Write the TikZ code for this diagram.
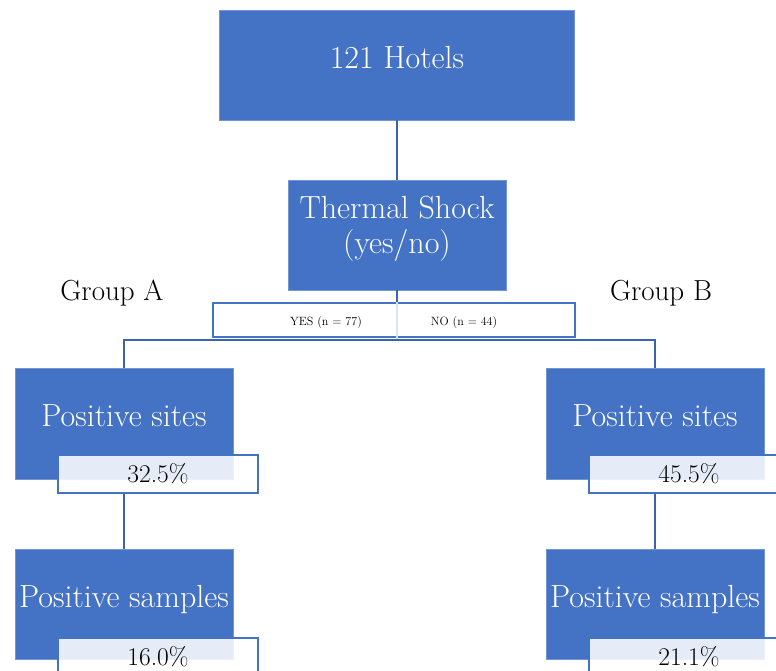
\documentclass[tikz,border=0pt]{standalone}
\usepackage{xcolor}
\usepackage{tikz}
\usetikzlibrary{positioning, calc}

\definecolor{boxblue}{HTML}{4472C4}
\definecolor{linkblue}{HTML}{3A64B0}
\definecolor{splitblue}{HTML}{DAE3F3}

\tikzset{
  bluebox/.style={fill=boxblue, draw=boxblue!75!white, line width=0.6pt, text=white,
    minimum width=218pt, minimum height=111pt, inner sep=0pt,
    font=\fontsize{32}{35}\selectfont},
  oneline/.style={text height=24pt, text depth=18pt},
  pctbox/.style={draw=boxblue, line width=1.5pt, fill=white, fill opacity=0.87,
    text opacity=1, minimum width=200pt, minimum height=38pt, inner sep=0pt,
    font=\fontsize{25.5}{28}\selectfont},
  link/.style={draw=linkblue, line width=2pt},
  grouplabel/.style={font=\fontsize{29}{32}\selectfont}
}

\begin{document}
\begin{tikzpicture}[x=1pt, y=-1pt]
  \useasboundingbox (0,0) rectangle (776,670);
  \clip (0,0) rectangle (776,670);

  % Top of the tree
  \node[bluebox, oneline, minimum width=355pt, minimum height=110pt] (hotels) at (397,65) {121 Hotels};
  \node[bluebox, align=center, minimum height=110pt, text depth=20pt] (shock) at (397,235) {Thermal Shock\\(yes/no)};
  \draw[link] (hotels) -- (shock);

  % Split into the two groups
  \node[draw=boxblue, line width=2pt, fill=white, minimum width=362pt, minimum height=34pt,
    inner sep=0pt] (yesno) at (394,320) {};
  \draw[link] (shock.south) -- (shock.south |- yesno.north);
  \coordinate (bar) at (397,340);
  \draw[splitblue, line width=1.5pt] (shock.south |- yesno.north) -- (bar);
  \node[font=\fontsize{12}{14}\selectfont] (yes) at (326,322) {YES (n = 77)};
  \node[font=\fontsize{12}{14}\selectfont] (no) at (464,322) {NO (n = 44)};
  \node[grouplabel] (groupA) at (112,293) {Group A};
  \node[grouplabel] (groupB) at (661,293) {Group B};

  % Group A
  \begin{scope}
    \node[bluebox, oneline] (siteA) at (124,423.5) {Positive sites};
    \node[pctbox] (pctA1) at (158,474) {32.5\%};
    \node[bluebox, oneline, minimum height=110pt] (sampA) at (124,604) {Positive samples};
    \node[pctbox] (pctA2) at (158,657) {16.0\%};
    \draw[link] (pctA1.south -| siteA.south) -- (sampA.north);
  \end{scope}

  % Group B
  \begin{scope}
    \node[bluebox, oneline] (siteB) at (655,423.5) {Positive sites};
    \node[pctbox] (pctB1) at (689,474) {45.5\%};
    \node[bluebox, oneline, minimum height=110pt] (sampB) at (655,604) {Positive samples};
    \node[pctbox] (pctB2) at (689,657) {21.1\%};
    \draw[link] (pctB1.south -| siteB.south) -- (sampB.north);
  \end{scope}

  \draw[link, line width=1.5pt] (siteA.north) |- (bar) -| (siteB.north);
\end{tikzpicture}
\end{document}
